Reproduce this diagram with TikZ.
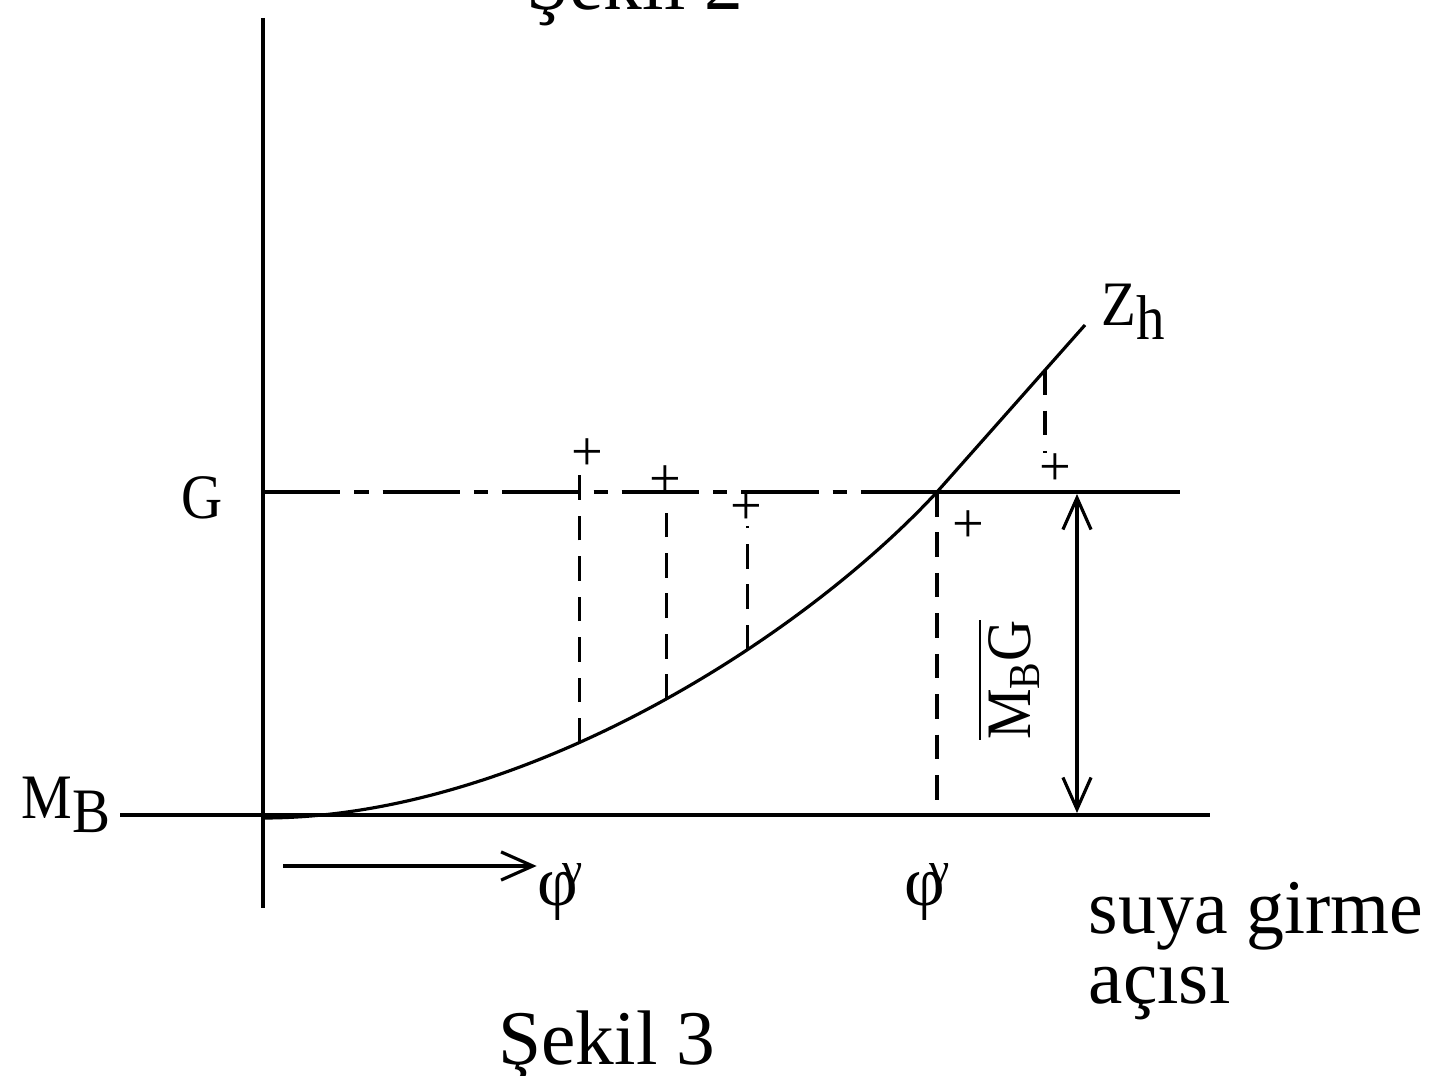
\documentclass[tikz,border=0pt]{standalone}
\usepackage{amsmath}
\usepackage{graphicx}
\usepackage{fontspec}
\setmainfont{Liberation Serif}
\usetikzlibrary{arrows.meta}
\newcommand{\narrow}[1]{\scalebox{0.9}[1]{#1}}
\newcommand{\lowsub}[1]{\raisebox{-0.5ex}{#1}}
\newcommand{\phig}{φ\kern-0.22em\raisebox{0.3em}{\fontsize{13}{13}\selectfont γ}}

\begin{document}
\begin{tikzpicture}[x=0.01cm,y=-0.01cm,>={Straight Barb[length=9pt,width=8pt]},
  thin line/.style={line width=0.9pt},
  drop/.style={line width=0.9pt,dash pattern=on 7pt off 4.5pt},
  cross/.style={font=\fontsize{16}{16}\selectfont,inner sep=0pt},
  tag/.style={font=\fontsize{18}{18}\selectfont,inner sep=0pt},
  big/.style={font=\fontsize{22}{22}\selectfont,inner sep=0pt}]
\useasboundingbox (0,0) rectangle (1429,1076);
\coordinate (top) at (263,18); \coordinate (bot) at (263,908);
\coordinate (mbL) at (120,815); \coordinate (mbR) at (1210,815);
\coordinate (gL) at (263,492); \coordinate (hit) at (937,492); \coordinate (gR) at (1180,492);
\coordinate (o) at (263,818); \coordinate (zend) at (1085,325);
\draw[thin line] (top)--(bot);
\draw[thin line] (mbL)--(mbR);
\draw[thin line,dash pattern=on 22pt off 4pt on 4pt off 4pt] (gL)--(hit);
\draw[thin line] (hit)--(gR);
\draw[thin line] (o) .. controls (520,818) and (800,640) .. coordinate[pos=0.41] (c1) coordinate[pos=0.53] (c2) coordinate[pos=0.65] (c3) (hit) -- coordinate[pos=0.73] (c4) (zend);
\node[cross] (p1) at (587,455){+};
\node[cross] (p2) at (665,482){+};
\node[cross] (p3) at (746,509){+};
\node[cross] (p4) at (968,527){+};
\node[cross] (p5) at (1055,470){+};
\draw[drop] (c1)--(c1 |- p1.south);
\draw[drop] (c2)--(c2 |- p2.south);
\draw[drop] (c3)--(c3 |- p3.south);
\coordinate (hitlow) at (937,800);
\draw[drop] (hit)--(hitlow);
\draw[drop] (c4)--(c4 |- p5.north);
\coordinate (mgtop) at (1077,494); \coordinate (mgbot) at (1077,813);
\draw[thin line,<->] (mgtop)--(mgbot);
\node[tag,rotate=90] (mbg) at (1008,680){\narrow{$\overline{\text{M}_{\text{B}}\text{G}}$}};
\node[tag,font=\fontsize{20}{20}\selectfont] (phi1) at (560,892){\phig};
\node[tag,font=\fontsize{20}{20}\selectfont] (phi2) at (927,892){\phig};
\coordinate (arL) at (283,866);
\draw[thin line,->] (arL)--(phi1.west |- arL);
\node[tag] (zh) at (1133,312){\narrow{Z\lowsub{h}}};
\node[tag] (g) at (202,498){\narrow{G}};
\node[tag] (mb) at (66,805){\narrow{M\lowsub{B}}};
\node[big,anchor=base west] (suya) at (1088,933){\scalebox{0.98}[1]{suya girme}};
\node[big,anchor=base west] (aci) at (1088,1003){açısı};
\node[big,anchor=base] (sekil3) at (607,1064){Şekil 3};
\node[big,anchor=base] (sekil2) at (635,10){Şekil 2};
\end{tikzpicture}
\end{document}
